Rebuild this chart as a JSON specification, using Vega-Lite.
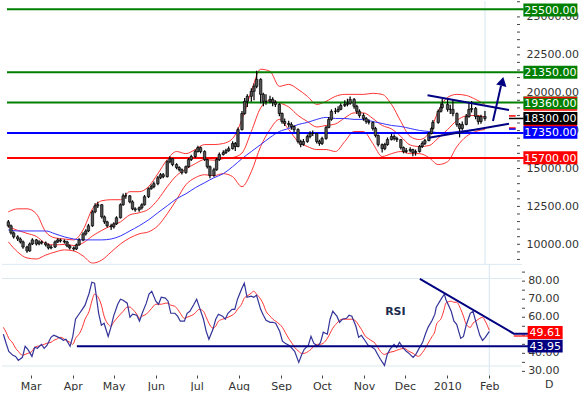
{
"$schema":"https://vega.github.io/schema/vega-lite/v6.json",
"padding":0,
"background":"white",
"spacing":0,
"bounds":"flush",
"config":{"view":{"stroke":null},"axis":{"domain":false,"grid":false,"tickColor":"#444","tickSize":3,"labelColor":"#333","labelFont":"DejaVu Sans","labelFontSize":11,"labelPadding":3,"labelBound":false,"labelFlush":false}},
"datasets":{
"p":[
{"d":"2009-02-09","o":11480,"h":11600,"l":11100,"c":11220,"r":50.6,"s":54.4},
{"d":"2009-02-11","o":11220,"h":11300,"l":10650,"c":10750,"r":45.6,"s":51.7},
{"d":"2009-02-13","o":10750,"h":10850,"l":10380,"c":10490,"r":41.1,"s":48.3},
{"d":"2009-02-16","o":10490,"h":10600,"l":10220,"c":10350,"r":38.9,"s":45.6},
{"d":"2009-02-18","o":10350,"h":10450,"l":10050,"c":10160,"r":38.3,"s":42.8},
{"d":"2009-02-20","o":10160,"h":10250,"l":9700,"c":9820,"r":36.1,"s":41.1},
{"d":"2009-02-23","o":9820,"h":9900,"l":9450,"c":9560,"r":37.8,"s":38.9},
{"d":"2009-02-25","o":9560,"h":10120,"l":9500,"c":10020,"r":43.9,"s":39.4},
{"d":"2009-02-27","o":10020,"h":10400,"l":9950,"c":10290,"r":42.2,"s":40.0},
{"d":"2009-03-02","o":10290,"h":10350,"l":9920,"c":10020,"r":38.3,"s":41.1},
{"d":"2009-03-04","o":10020,"h":10260,"l":9930,"c":10160,"r":43.3,"s":43.3},
{"d":"2009-03-06","o":10160,"h":10250,"l":9980,"c":10090,"r":42.8,"s":43.9},
{"d":"2009-03-09","o":10090,"h":10180,"l":9850,"c":9960,"r":45.0,"s":44.4},
{"d":"2009-03-11","o":9960,"h":10050,"l":9650,"c":9760,"r":42.8,"s":45.0},
{"d":"2009-03-13","o":9760,"h":9950,"l":9680,"c":9820,"r":44.4,"s":45.6},
{"d":"2009-03-16","o":9820,"h":10250,"l":9760,"c":10160,"r":48.9,"s":46.1},
{"d":"2009-03-18","o":10160,"h":10400,"l":10080,"c":10290,"r":50.0,"s":47.2},
{"d":"2009-03-20","o":10290,"h":10380,"l":10120,"c":10220,"r":49.4,"s":47.8},
{"d":"2009-03-23","o":10220,"h":10320,"l":10050,"c":10160,"r":48.3,"s":48.9},
{"d":"2009-03-25","o":10160,"h":10230,"l":9800,"c":9890,"r":47.2,"s":48.3},
{"d":"2009-03-27","o":9890,"h":9980,"l":9650,"c":9760,"r":47.8,"s":47.2},
{"d":"2009-03-30","o":9760,"h":9850,"l":9580,"c":9690,"r":43.9,"s":46.1},
{"d":"2009-04-01","o":9690,"h":10050,"l":9620,"c":9960,"r":49.4,"s":45.0},
{"d":"2009-04-03","o":9960,"h":10400,"l":9900,"c":10290,"r":58.9,"s":48.3},
{"d":"2009-04-06","o":10290,"h":10800,"l":10200,"c":10680,"r":62.2,"s":51.1},
{"d":"2009-04-08","o":10680,"h":11000,"l":10580,"c":10880,"r":64.4,"s":54.4},
{"d":"2009-04-10","o":10880,"h":11350,"l":10800,"c":11220,"r":66.7,"s":58.9},
{"d":"2009-04-13","o":11220,"h":12250,"l":11150,"c":12140,"r":73.3,"s":63.3},
{"d":"2009-04-15","o":12140,"h":12700,"l":12050,"c":12540,"r":79.4,"s":68.9},
{"d":"2009-04-17","o":12540,"h":12800,"l":12400,"c":12610,"r":78.9,"s":72.8},
{"d":"2009-04-20","o":12610,"h":12650,"l":11700,"c":11810,"r":62.2,"s":70.6},
{"d":"2009-04-22","o":11810,"h":11900,"l":11350,"c":11480,"r":55.6,"s":66.7},
{"d":"2009-04-24","o":11480,"h":11560,"l":11100,"c":11220,"r":56.7,"s":60.6},
{"d":"2009-04-27","o":11220,"h":11350,"l":10950,"c":11150,"r":49.4,"s":56.1},
{"d":"2009-04-29","o":11150,"h":11450,"l":11050,"c":11350,"r":54.4,"s":55.0},
{"d":"2009-05-01","o":11350,"h":11850,"l":11280,"c":11750,"r":60.6,"s":57.2},
{"d":"2009-05-04","o":11750,"h":12700,"l":11700,"c":12610,"r":67.2,"s":60.0},
{"d":"2009-05-06","o":12610,"h":13350,"l":12550,"c":13200,"r":70.0,"s":61.7},
{"d":"2009-05-08","o":13200,"h":13400,"l":13000,"c":13200,"r":69.4,"s":63.3},
{"d":"2009-05-11","o":13200,"h":13250,"l":12700,"c":12800,"r":67.8,"s":65.6},
{"d":"2009-05-13","o":12800,"h":12900,"l":12250,"c":12340,"r":60.0,"s":65.6},
{"d":"2009-05-15","o":12340,"h":12450,"l":12150,"c":12270,"r":61.7,"s":64.4},
{"d":"2009-05-18","o":12270,"h":12500,"l":12150,"c":12410,"r":61.1,"s":61.7},
{"d":"2009-05-20","o":12410,"h":12700,"l":12300,"c":12610,"r":57.8,"s":59.4},
{"d":"2009-05-22","o":12610,"h":13250,"l":12550,"c":13140,"r":62.2,"s":60.6},
{"d":"2009-05-25","o":13140,"h":13750,"l":13050,"c":13670,"r":67.8,"s":61.7},
{"d":"2009-05-27","o":13670,"h":13950,"l":13600,"c":13800,"r":72.8,"s":63.3},
{"d":"2009-05-29","o":13800,"h":14150,"l":13700,"c":14000,"r":74.4,"s":65.0},
{"d":"2009-06-01","o":14000,"h":14500,"l":13900,"c":14390,"r":68.9,"s":67.2},
{"d":"2009-06-03","o":14390,"h":14700,"l":14300,"c":14590,"r":67.2,"s":67.2},
{"d":"2009-06-05","o":14590,"h":14700,"l":14350,"c":14460,"r":71.1,"s":67.2},
{"d":"2009-06-08","o":14460,"h":15550,"l":14400,"c":15450,"r":70.6,"s":67.8},
{"d":"2009-06-10","o":15450,"h":15800,"l":15350,"c":15650,"r":68.9,"s":67.8},
{"d":"2009-06-12","o":15650,"h":15700,"l":15150,"c":15260,"r":62.2,"s":66.7},
{"d":"2009-06-15","o":15260,"h":15350,"l":14950,"c":15060,"r":62.2,"s":66.1},
{"d":"2009-06-17","o":15060,"h":15150,"l":14800,"c":14920,"r":60.6,"s":64.4},
{"d":"2009-06-19","o":14920,"h":15000,"l":14600,"c":14730,"r":57.8,"s":62.2},
{"d":"2009-06-22","o":14730,"h":15200,"l":14650,"c":15120,"r":57.8,"s":59.4},
{"d":"2009-06-24","o":15120,"h":15700,"l":15050,"c":15590,"r":62.2,"s":60.0},
{"d":"2009-06-26","o":15590,"h":15900,"l":15500,"c":15790,"r":63.3,"s":60.6},
{"d":"2009-06-29","o":15790,"h":16250,"l":15700,"c":16120,"r":67.2,"s":61.7},
{"d":"2009-07-01","o":16120,"h":16500,"l":16050,"c":16380,"r":70.0,"s":63.3},
{"d":"2009-07-03","o":16380,"h":16450,"l":16000,"c":16120,"r":65.6,"s":64.4},
{"d":"2009-07-06","o":16120,"h":16200,"l":15500,"c":15590,"r":58.9,"s":63.3},
{"d":"2009-07-08","o":15590,"h":15650,"l":15000,"c":15120,"r":52.2,"s":60.0},
{"d":"2009-07-10","o":15120,"h":15200,"l":14350,"c":14530,"r":47.8,"s":56.7},
{"d":"2009-07-13","o":14530,"h":15050,"l":14450,"c":14920,"r":53.3,"s":53.9},
{"d":"2009-07-15","o":14920,"h":15700,"l":14850,"c":15590,"r":58.9,"s":55.0},
{"d":"2009-07-17","o":15590,"h":16050,"l":15500,"c":15920,"r":61.7,"s":57.8},
{"d":"2009-07-20","o":15920,"h":16200,"l":15850,"c":16050,"r":60.6,"s":58.9},
{"d":"2009-07-22","o":16050,"h":16300,"l":15950,"c":16180,"r":58.9,"s":59.4},
{"d":"2009-07-24","o":16180,"h":16450,"l":16100,"c":16310,"r":62.2,"s":60.0},
{"d":"2009-07-27","o":16310,"h":16800,"l":16250,"c":16650,"r":64.4,"s":61.1},
{"d":"2009-07-29","o":16650,"h":16750,"l":16150,"c":16450,"r":64.4,"s":62.2},
{"d":"2009-07-31","o":16450,"h":17700,"l":16400,"c":17570,"r":70.0,"s":64.4},
{"d":"2009-08-03","o":17570,"h":18800,"l":17500,"c":18630,"r":75.6,"s":67.2},
{"d":"2009-08-05","o":18630,"h":19650,"l":18550,"c":19430,"r":78.9,"s":70.6},
{"d":"2009-08-07","o":19430,"h":19900,"l":19050,"c":19760,"r":71.1,"s":71.7},
{"d":"2009-08-10","o":19760,"h":20300,"l":19400,"c":20090,"r":71.7,"s":73.3},
{"d":"2009-08-12","o":20090,"h":20600,"l":19500,"c":20420,"r":71.1,"s":74.4},
{"d":"2009-08-14","o":20420,"h":21450,"l":20300,"c":20880,"r":72.2,"s":72.8},
{"d":"2009-08-17","o":20880,"h":20950,"l":19300,"c":19890,"r":64.4,"s":70.0},
{"d":"2009-08-19","o":19890,"h":20000,"l":19100,"c":19430,"r":61.1,"s":67.2},
{"d":"2009-08-21","o":19430,"h":19900,"l":19200,"c":19430,"r":58.3,"s":63.3},
{"d":"2009-08-24","o":19430,"h":19800,"l":19300,"c":19560,"r":57.2,"s":60.6},
{"d":"2009-08-26","o":19560,"h":19700,"l":19100,"c":19360,"r":57.2,"s":58.9},
{"d":"2009-08-28","o":19360,"h":19500,"l":19050,"c":19230,"r":56.7,"s":57.8},
{"d":"2009-08-31","o":19230,"h":19300,"l":18450,"c":18630,"r":52.2,"s":56.1},
{"d":"2009-09-02","o":18630,"h":18700,"l":17950,"c":18100,"r":46.7,"s":54.4},
{"d":"2009-09-04","o":18100,"h":18300,"l":17800,"c":17970,"r":45.6,"s":51.7},
{"d":"2009-09-07","o":17970,"h":18150,"l":17700,"c":17900,"r":44.4,"s":47.8},
{"d":"2009-09-09","o":17900,"h":18050,"l":17550,"c":17770,"r":42.8,"s":45.6},
{"d":"2009-09-11","o":17770,"h":17850,"l":17400,"c":17570,"r":41.1,"s":43.3},
{"d":"2009-09-14","o":17570,"h":17650,"l":16650,"c":16780,"r":35.0,"s":41.1},
{"d":"2009-09-16","o":16780,"h":16900,"l":16400,"c":16580,"r":38.9,"s":40.0},
{"d":"2009-09-18","o":16580,"h":16950,"l":16500,"c":16780,"r":42.2,"s":40.0},
{"d":"2009-09-21","o":16780,"h":17250,"l":16700,"c":17110,"r":44.4,"s":41.1},
{"d":"2009-09-23","o":17110,"h":17450,"l":17000,"c":17310,"r":49.4,"s":42.2},
{"d":"2009-09-25","o":17310,"h":17500,"l":17150,"c":17310,"r":45.6,"s":43.9},
{"d":"2009-09-28","o":17310,"h":17350,"l":16650,"c":16780,"r":43.9,"s":45.0},
{"d":"2009-09-30","o":16780,"h":16900,"l":16500,"c":16650,"r":46.1,"s":45.0},
{"d":"2009-10-02","o":16650,"h":17100,"l":16550,"c":16980,"r":51.7,"s":45.6},
{"d":"2009-10-05","o":16980,"h":17800,"l":16900,"c":17700,"r":50.6,"s":48.3},
{"d":"2009-10-07","o":17700,"h":18400,"l":17650,"c":18240,"r":58.9,"s":51.1},
{"d":"2009-10-09","o":18240,"h":18900,"l":18150,"c":18770,"r":63.3,"s":53.9},
{"d":"2009-10-12","o":18770,"h":19000,"l":18600,"c":18770,"r":60.6,"s":56.7},
{"d":"2009-10-14","o":18770,"h":19100,"l":18700,"c":18900,"r":57.2,"s":58.3},
{"d":"2009-10-16","o":18900,"h":19300,"l":18850,"c":19160,"r":58.9,"s":58.9},
{"d":"2009-10-19","o":19160,"h":19500,"l":19050,"c":19230,"r":59.4,"s":58.9},
{"d":"2009-10-21","o":19230,"h":19600,"l":19100,"c":19300,"r":61.1,"s":58.9},
{"d":"2009-10-23","o":19300,"h":19750,"l":19200,"c":19560,"r":60.6,"s":58.9},
{"d":"2009-10-26","o":19560,"h":19650,"l":18950,"c":19100,"r":55.0,"s":57.8},
{"d":"2009-10-28","o":19100,"h":19200,"l":18600,"c":18770,"r":48.9,"s":55.6},
{"d":"2009-10-30","o":18770,"h":18900,"l":18350,"c":18500,"r":50.0,"s":53.3},
{"d":"2009-11-02","o":18500,"h":18650,"l":18150,"c":18300,"r":46.7,"s":49.4},
{"d":"2009-11-04","o":18300,"h":18400,"l":17950,"c":18100,"r":44.4,"s":48.3},
{"d":"2009-11-06","o":18100,"h":18250,"l":17900,"c":18040,"r":43.9,"s":47.2},
{"d":"2009-11-09","o":18040,"h":18100,"l":17500,"c":17640,"r":42.2,"s":45.6},
{"d":"2009-11-11","o":17640,"h":17750,"l":17050,"c":17180,"r":39.4,"s":43.3},
{"d":"2009-11-13","o":17180,"h":17250,"l":16450,"c":16580,"r":36.7,"s":41.1},
{"d":"2009-11-16","o":16580,"h":16650,"l":16050,"c":16310,"r":33.3,"s":39.4},
{"d":"2009-11-18","o":16310,"h":16700,"l":16200,"c":16580,"r":39.4,"s":40.0},
{"d":"2009-11-20","o":16580,"h":17050,"l":16500,"c":16910,"r":42.2,"s":40.6},
{"d":"2009-11-23","o":16910,"h":17300,"l":16850,"c":17110,"r":45.0,"s":41.1},
{"d":"2009-11-25","o":17110,"h":17250,"l":16850,"c":16980,"r":43.3,"s":41.7},
{"d":"2009-11-27","o":16980,"h":17100,"l":16750,"c":16910,"r":46.1,"s":42.2},
{"d":"2009-11-30","o":16910,"h":16950,"l":16250,"c":16380,"r":42.8,"s":42.8},
{"d":"2009-12-02","o":16380,"h":16450,"l":16000,"c":16120,"r":41.1,"s":42.2},
{"d":"2009-12-04","o":16120,"h":16350,"l":16000,"c":16180,"r":40.0,"s":41.1},
{"d":"2009-12-07","o":16180,"h":16400,"l":16050,"c":16250,"r":37.8,"s":40.0},
{"d":"2009-12-09","o":16250,"h":16300,"l":15800,"c":16050,"r":39.4,"s":38.9},
{"d":"2009-12-11","o":16050,"h":16250,"l":15850,"c":16120,"r":42.2,"s":38.3},
{"d":"2009-12-14","o":16120,"h":16550,"l":16050,"c":16450,"r":46.1,"s":40.6},
{"d":"2009-12-16","o":16450,"h":16800,"l":16350,"c":16650,"r":50.6,"s":42.8},
{"d":"2009-12-18","o":16650,"h":16950,"l":16550,"c":16840,"r":54.4,"s":45.6},
{"d":"2009-12-21","o":16840,"h":17400,"l":16800,"c":17310,"r":58.3,"s":49.4},
{"d":"2009-12-23","o":17310,"h":17750,"l":17250,"c":17640,"r":61.7,"s":52.2},
{"d":"2009-12-24","o":17640,"h":18200,"l":17550,"c":18040,"r":65.6,"s":55.6},
{"d":"2009-12-28","o":18040,"h":18900,"l":17950,"c":18770,"r":70.6,"s":60.0},
{"d":"2009-12-30","o":18770,"h":19300,"l":18700,"c":19030,"r":72.8,"s":65.0},
{"d":"2009-12-31","o":19030,"h":19600,"l":18950,"c":19230,"r":70.0,"s":67.8},
{"d":"2010-01-04","o":19230,"h":19650,"l":18750,"c":18900,"r":63.3,"s":68.9},
{"d":"2010-01-06","o":18900,"h":19200,"l":18600,"c":18900,"r":57.8,"s":68.3},
{"d":"2010-01-08","o":18900,"h":19550,"l":18450,"c":18630,"r":56.1,"s":68.3},
{"d":"2010-01-11","o":18630,"h":18700,"l":17750,"c":17900,"r":48.3,"s":64.4},
{"d":"2010-01-13","o":17900,"h":18000,"l":17050,"c":17640,"r":49.4,"s":60.6},
{"d":"2010-01-15","o":17640,"h":18100,"l":17500,"c":17900,"r":55.6,"s":56.1},
{"d":"2010-01-18","o":17900,"h":18600,"l":17850,"c":18430,"r":62.2,"s":54.4},
{"d":"2010-01-20","o":18430,"h":19300,"l":18350,"c":18900,"r":63.3,"s":56.7},
{"d":"2010-01-22","o":18900,"h":19450,"l":18700,"c":18960,"r":57.8,"s":57.8},
{"d":"2010-01-25","o":18960,"h":19050,"l":18250,"c":18430,"r":50.0,"s":59.4},
{"d":"2010-01-27","o":18430,"h":18500,"l":17900,"c":18100,"r":47.2,"s":60.0},
{"d":"2010-01-29","o":18100,"h":18550,"l":17950,"c":18430,"r":48.9,"s":57.8},
{"d":"2010-02-01","o":18430,"h":18800,"l":18150,"c":18300,"r":52.2,"s":52.8}
],
"b":[
{"d":"2009-02-09","u":12140,"m":11150,"lo":10160,"a":10950},
{"d":"2009-02-16","u":12340,"m":10920,"lo":9490,"a":10880},
{"d":"2009-02-23","u":12340,"m":10720,"lo":9100,"a":10880},
{"d":"2009-03-02","u":12010,"m":10520,"lo":9030,"a":10880},
{"d":"2009-03-09","u":10820,"m":10060,"lo":9290,"a":10880},
{"d":"2009-03-16","u":10420,"m":9960,"lo":9490,"a":10690},
{"d":"2009-03-23","u":10350,"m":9990,"lo":9630,"a":10490},
{"d":"2009-03-30","u":10290,"m":9920,"lo":9560,"a":10350},
{"d":"2009-04-06","u":10950,"m":10090,"lo":9230,"a":10290},
{"d":"2009-04-13","u":12340,"m":10550,"lo":8760,"a":10290},
{"d":"2009-04-20","u":12870,"m":10920,"lo":8960,"a":10290},
{"d":"2009-04-27","u":12940,"m":11220,"lo":9490,"a":10350},
{"d":"2009-05-04","u":12940,"m":11480,"lo":10020,"a":10550},
{"d":"2009-05-11","u":13470,"m":11940,"lo":10420,"a":10880},
{"d":"2009-05-18","u":13470,"m":12080,"lo":10690,"a":11220},
{"d":"2009-05-25","u":13800,"m":12310,"lo":10820,"a":11610},
{"d":"2009-06-01","u":14660,"m":12940,"lo":11220,"a":12080},
{"d":"2009-06-08","u":15590,"m":13800,"lo":12010,"a":12540},
{"d":"2009-06-15","u":16120,"m":14530,"lo":12940,"a":13000},
{"d":"2009-06-22","u":15980,"m":14960,"lo":13930,"a":13330},
{"d":"2009-06-29","u":16250,"m":15320,"lo":14390,"a":13730},
{"d":"2009-07-06","u":16580,"m":15590,"lo":14590,"a":14060},
{"d":"2009-07-13","u":16580,"m":15550,"lo":14530,"a":14390},
{"d":"2009-07-20","u":16650,"m":15650,"lo":14660,"a":14660},
{"d":"2009-07-27","u":16980,"m":15720,"lo":14460,"a":15120},
{"d":"2009-08-03","u":18240,"m":16020,"lo":13800,"a":15650},
{"d":"2009-08-10","u":20090,"m":17440,"lo":14790,"a":16120},
{"d":"2009-08-17","u":21550,"m":19000,"lo":16450,"a":16580},
{"d":"2009-08-24","u":21410,"m":19490,"lo":17570,"a":17040},
{"d":"2009-08-31","u":20420,"m":19330,"lo":18240,"a":17440},
{"d":"2009-09-07","u":20550,"m":19060,"lo":17570,"a":17640},
{"d":"2009-09-14","u":20220,"m":18500,"lo":16780,"a":17900},
{"d":"2009-09-21","u":19760,"m":18100,"lo":16450,"a":18040},
{"d":"2009-09-28","u":19230,"m":17740,"lo":16250,"a":18240},
{"d":"2009-10-05","u":19430,"m":17840,"lo":16250,"a":18370},
{"d":"2009-10-12","u":19760,"m":17940,"lo":16120,"a":18300},
{"d":"2009-10-19","u":19890,"m":18340,"lo":16780,"a":18300},
{"d":"2009-10-26","u":19890,"m":18670,"lo":17440,"a":18240},
{"d":"2009-11-02","u":19890,"m":18670,"lo":17440,"a":18240},
{"d":"2009-11-09","u":19960,"m":18300,"lo":16650,"a":18100},
{"d":"2009-11-16","u":19890,"m":17840,"lo":15790,"a":17970},
{"d":"2009-11-23","u":19230,"m":17610,"lo":15980,"a":17840},
{"d":"2009-11-30","u":18100,"m":17110,"lo":16120,"a":17770},
{"d":"2009-12-07","u":17110,"m":16550,"lo":15980,"a":17640},
{"d":"2009-12-14","u":16910,"m":16450,"lo":15980,"a":17510},
{"d":"2009-12-21","u":17310,"m":16510,"lo":15720,"a":17440},
{"d":"2009-12-28","u":18770,"m":17010,"lo":15260,"a":17370},
{"d":"2010-01-04","u":19690,"m":17570,"lo":15450,"a":17370},
{"d":"2010-01-11","u":19890,"m":18170,"lo":16450,"a":17440},
{"d":"2010-01-18","u":19820,"m":18470,"lo":17110,"a":17510},
{"d":"2010-01-25","u":19560,"m":18500,"lo":17440,"a":17570},
{"d":"2010-02-01","u":19230,"m":18400,"lo":17570,"a":17640}
],
"lv":[{"v":25500,"k":"g"},{"v":21350,"k":"g"},{"v":19360,"k":"g"},{"v":17350,"k":"b"},{"v":15700,"k":"r"}],
"bx":[{"v":25450,"t":"25500.00","k":"g"},{"v":21350,"t":"21350.00","k":"g"},{"v":19320,"t":"19360.00","k":"g"},{"v":18300,"t":"18300.00","k":"k"},{"v":17390,"t":"17350.00","k":"b"},{"v":15710,"t":"15700.00","k":"r"}],
"rl":[{"v":19684},{"v":18859},{"v":17837}],
"mk":[{"v":18470,"k":"r"},{"v":17670,"k":"r"},{"v":17600,"k":"b"}],
"pt":[{"v":9000},{"v":9500},{"v":10000},{"v":10500},{"v":11000},{"v":11500},{"v":12000},{"v":12500},{"v":13000},{"v":13500},{"v":14000},{"v":14500},{"v":15000},{"v":15500},{"v":16000},{"v":16500},{"v":17000},{"v":17500},{"v":18000},{"v":18500},{"v":19000},{"v":19500},{"v":20000},{"v":20500},{"v":21000},{"v":21500},{"v":22000},{"v":22500},{"v":23000},{"v":23500},{"v":24000},{"v":24500},{"v":25000},{"v":25500},{"v":26000}],
"rtk":[{"v":30},{"v":35},{"v":40},{"v":45},{"v":50},{"v":55},{"v":60},{"v":65},{"v":70},{"v":75},{"v":80},{"v":85}],
"rlab":[{"v":30,"t":"30.00"},{"v":40,"t":"40.00"},{"v":50,"t":"50.00"},{"v":60,"t":"60.00"},{"v":70,"t":"70.00"},{"v":80,"t":"80.00"}],
"tl":[{"g":"u","d":"2009-12-20","v":19830},{"g":"u","d":"2010-02-19","v":18860},{"g":"l","d":"2009-12-21","v":17030},{"g":"l","d":"2010-02-19","v":17955},{"g":"a","d":"2010-02-07","v":18130},{"g":"a","d":"2010-02-13","v":20450}],
"rt":[{"d":"2009-12-12","v":81.3},{"d":"2010-02-19","v":50.9},{"d":"2010-03-02","v":50.9}],
"rb":[{"v":51.6,"t":"49.61","k":"r"},{"v":44.0,"t":"43.95","k":"n"}]
},
"vconcat":[
{
"width":520,"height":263,
"layer":[
{"data":{"values":[{"d":"2010-02-01"}]},"mark":{"type":"rule","color":"#d6e6ef","strokeWidth":1},
 "encoding":{"x":{"field":"d","type":"temporal","scale":{"type":"utc","domain":[{"year":2009,"month":2,"date":8,"utc":true},{"year":2010,"month":2,"date":25,"utc":true}]},"axis":null}}},
{"data":{"name":"b"},"mark":{"type":"line","color":"#ff3333","strokeWidth":1,"interpolate":"monotone"},
 "encoding":{"x":{"field":"d","type":"temporal","axis":null},
  "y":{"field":"u","type":"quantitative","title":null,"scale":{"domain":[8700,26050],"nice":false,"zero":false},
   "axis":{"orient":"right","ticks":false,"labelPadding":4,"values":[10000,12500,15000,17500,20000,22500,25000],"format":".2f"}}}},
{"data":{"name":"pt"},"mark":{"type":"rule","color":"#444","strokeWidth":1},
 "encoding":{"x":{"datum":{"year":2010,"month":2,"date":25,"utc":true},"type":"temporal","axis":null},"x2":{"datum":{"year":2010,"month":2,"date":27,"hours":5,"utc":true}},"y":{"field":"v","type":"quantitative","title":null}}},
{"data":{"name":"b"},"mark":{"type":"line","color":"#ff3333","strokeWidth":1,"interpolate":"monotone"},
 "encoding":{"x":{"field":"d","type":"temporal","axis":null},"y":{"field":"lo","type":"quantitative","title":null}}},
{"data":{"name":"b"},"mark":{"type":"line","color":"#ff3333","strokeWidth":1,"interpolate":"monotone"},
 "encoding":{"x":{"field":"d","type":"temporal","axis":null},"y":{"field":"m","type":"quantitative","title":null}}},
{"data":{"name":"b"},"mark":{"type":"line","color":"#3333ff","strokeWidth":1,"interpolate":"monotone"},
 "encoding":{"x":{"field":"d","type":"temporal","axis":null},"y":{"field":"a","type":"quantitative","title":null}}},
{"data":{"name":"lv"},"mark":{"type":"rule","strokeWidth":2},
 "encoding":{"x":{"datum":{"year":2009,"month":2,"date":8,"utc":true},"type":"temporal","axis":null},"x2":{"datum":{"year":2010,"month":3,"date":2,"utc":true}},
  "y":{"field":"v","type":"quantitative","title":null},
  "color":{"field":"k","type":"nominal","scale":{"domain":["g","r","b","k","n"],"range":["#008000","#ff0000","#0000ff","#000000","#000080"]},"legend":null}}},
{"data":{"name":"p"},"mark":{"type":"rule","color":"#000","strokeWidth":1.2},
 "encoding":{"x":{"field":"d","type":"temporal","axis":null},"y":{"field":"l","type":"quantitative","title":null},"y2":{"field":"h"}}},
{"data":{"name":"p"},"mark":{"type":"bar","color":"#555","stroke":"#000","strokeWidth":0.7,"size":2.4},
 "encoding":{"x":{"field":"d","type":"temporal","axis":null},"y":{"field":"o","type":"quantitative","title":null},"y2":{"field":"c"}}},
{"data":{"name":"tl"},"mark":{"type":"line","color":"#000080","strokeWidth":2},
 "encoding":{"x":{"field":"d","type":"temporal","axis":null},"y":{"field":"v","type":"quantitative","title":null},"detail":{"field":"g"}}},
{"data":{"values":[{"d":"2010-02-14","v":20750}]},"mark":{"type":"point","shape":"triangle-up","filled":true,"opacity":1,"color":"#000080","size":110,"angle":13},
 "encoding":{"x":{"field":"d","type":"temporal","axis":null},"y":{"field":"v","type":"quantitative","title":null}}},
{"data":{"name":"mk"},"mark":{"type":"rule","strokeWidth":1.5},
 "encoding":{"x":{"datum":{"year":2010,"month":2,"date":19,"utc":true},"type":"temporal","axis":null},"x2":{"datum":{"year":2010,"month":2,"date":24,"utc":true}},"y":{"field":"v","type":"quantitative","title":null},
  "color":{"field":"k","type":"nominal","legend":null}}},
{"data":{"values":[{"v":18300}]},"mark":{"type":"rule","color":"#000","strokeWidth":1.5},
 "encoding":{"x":{"datum":{"year":2010,"month":2,"date":19,"utc":true},"type":"temporal","axis":null},"x2":{"datum":{"year":2010,"month":3,"date":2,"utc":true}},"y":{"field":"v","type":"quantitative","title":null}}},
{"data":{"name":"bx"},"mark":{"type":"point","shape":"M-1,-0.24H1V0.24H-1Z","filled":true,"opacity":1,"size":2916},
 "encoding":{"x":{"datum":{"year":2010,"month":3,"date":22,"utc":true},"type":"temporal","axis":null},"y":{"field":"v","type":"quantitative","title":null},
  "color":{"field":"k","type":"nominal","legend":null}}},
{"data":{"name":"rl"},"mark":{"type":"rule","color":"#ff0000","strokeWidth":1.5},
 "encoding":{"x":{"datum":{"year":2010,"month":3,"date":2,"utc":true},"type":"temporal","axis":null},"x2":{"datum":{"year":2010,"month":4,"date":11,"utc":true}},"y":{"field":"v","type":"quantitative","title":null}}},
{"data":{"name":"bx"},"mark":{"type":"text","color":"white","font":"DejaVu Sans","fontSize":11,"align":"center","baseline":"middle","dy":1},
 "encoding":{"x":{"datum":{"year":2010,"month":3,"date":22,"utc":true},"type":"temporal","axis":null},"y":{"field":"v","type":"quantitative","title":null},"text":{"field":"t"}}}
]
},
{
"width":520,"height":111,
"layer":[
{"data":{"values":[{"d":"2010-02-01"}]},"mark":{"type":"rule","color":"#d6e6ef","strokeWidth":1},
 "encoding":{"x":{"field":"d","type":"temporal","scale":{"type":"utc","domain":[{"year":2009,"month":2,"date":8,"utc":true},{"year":2010,"month":2,"date":25,"utc":true}]},"title":null,
  "axis":{"orient":"bottom","tickCount":{"interval":"month","step":1},"tickSize":3,"labelPadding":2,"labelExpr":"utcmonth(datum.value) == 0 ? utcFormat(datum.value, '%Y') : utcFormat(datum.value, '%b')"}}}},
{"data":{"values":[{"v":89.3},{"v":81.5},{"v":33}]},"mark":{"type":"rule","color":"#dce9f1","strokeWidth":1},
 "encoding":{"y":{"field":"v","type":"quantitative","title":null,"scale":{"domain":[28,89.5],"nice":false,"zero":false},"axis":null}}},
{"data":{"name":"rtk"},"mark":{"type":"rule","color":"#444","strokeWidth":1},
 "encoding":{"x":{"datum":{"year":2010,"month":2,"date":25,"utc":true},"type":"temporal"},"x2":{"datum":{"year":2010,"month":2,"date":27,"hours":5,"utc":true}},"y":{"field":"v","type":"quantitative","title":null}}},
{"data":{"name":"rlab"},"mark":{"type":"text","color":"#333","font":"DejaVu Sans","fontSize":11,"align":"left","baseline":"middle"},
 "encoding":{"x":{"datum":{"year":2010,"month":3,"date":1,"hours":12,"utc":true},"type":"temporal"},"y":{"field":"v","type":"quantitative","title":null},"text":{"field":"t"}}},
{"data":{"name":"p"},"mark":{"type":"line","color":"#ff3333","strokeWidth":1,"interpolate":"monotone"},
 "encoding":{"x":{"field":"d","type":"temporal"},"y":{"field":"s","type":"quantitative","title":null}}},
{"data":{"name":"p"},"mark":{"type":"line","color":"#333399","strokeWidth":1.2},
 "encoding":{"x":{"field":"d","type":"temporal"},"y":{"field":"r","type":"quantitative","title":null}}},
{"data":{"values":[{"v":43.95}]},"mark":{"type":"rule","color":"#000080","strokeWidth":2},
 "encoding":{"x":{"datum":{"year":2009,"month":4,"date":4,"utc":true},"type":"temporal"},"x2":{"datum":{"year":2010,"month":3,"date":2,"utc":true}},"y":{"field":"v","type":"quantitative","title":null}}},
{"data":{"values":[{"v":49.6}]},"mark":{"type":"rule","color":"#ff3333","strokeWidth":1.5},
 "encoding":{"x":{"datum":{"year":2010,"month":2,"date":19,"utc":true},"type":"temporal"},"x2":{"datum":{"year":2010,"month":3,"date":2,"utc":true}},"y":{"field":"v","type":"quantitative","title":null}}},
{"data":{"name":"rt"},"mark":{"type":"line","color":"#000080","strokeWidth":2},
 "encoding":{"x":{"field":"d","type":"temporal"},"y":{"field":"v","type":"quantitative","title":null}}},
{"data":{"name":"rb"},"mark":{"type":"point","shape":"M-1,-0.371H1V0.371H-1Z","filled":true,"opacity":1,"size":1225},
 "encoding":{"x":{"datum":{"year":2010,"month":3,"date":14,"utc":true},"type":"temporal"},"y":{"field":"v","type":"quantitative","title":null},
  "color":{"field":"k","type":"nominal","scale":{"domain":["g","r","b","k","n"],"range":["#008000","#ff0000","#0000ff","#000000","#000080"]},"legend":null}}},
{"data":{"name":"rb"},"mark":{"type":"text","color":"white","font":"DejaVu Sans","fontSize":11,"align":"center","baseline":"middle","dy":1},
 "encoding":{"x":{"datum":{"year":2010,"month":3,"date":14,"utc":true},"type":"temporal"},"y":{"field":"v","type":"quantitative","title":null},"text":{"field":"t"}}},
{"data":{"values":[{"d":"2009-11-24","v":62.9,"t":"RSI"}]},"mark":{"type":"text","color":"#1c2c4c","font":"DejaVu Sans","fontSize":11,"fontWeight":"bold","align":"center","baseline":"middle"},
 "encoding":{"x":{"field":"d","type":"temporal"},"y":{"field":"v","type":"quantitative","title":null},"text":{"field":"t"}}},
{"data":{"values":[{"d":"2010-03-17","v":22.5,"t":"D"}]},"mark":{"type":"text","color":"#333","font":"DejaVu Sans","fontSize":11,"align":"center","baseline":"middle"},
 "encoding":{"x":{"field":"d","type":"temporal"},"y":{"field":"v","type":"quantitative","title":null},"text":{"field":"t"}}}
]
}
]
}
